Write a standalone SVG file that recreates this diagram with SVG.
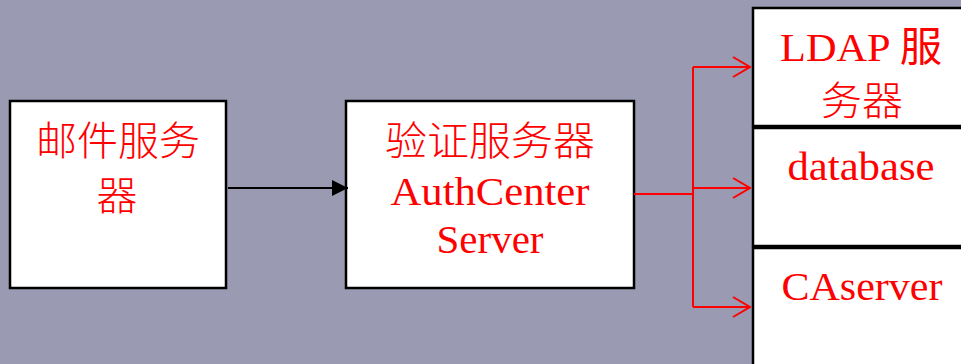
<svg xmlns="http://www.w3.org/2000/svg" width="961" height="364" viewBox="0 0 961 364">
<defs>
<style>
.box{fill:#ffffff;stroke:#000000;stroke-width:2.5}
.t{font-family:"Liberation Serif","Noto Sans CJK SC",serif;font-size:41px;fill:#ff0000;text-anchor:middle}
.c{font-family:"Noto Sans CJK SC",sans-serif;font-size:40px;font-weight:300;fill:#ff0000;text-anchor:middle}
.red{fill:none;stroke:#ff0000;stroke-width:2}
</style>
<marker id="tri" viewBox="0 0 16 16" refX="16" refY="8" markerWidth="16" markerHeight="16" markerUnits="userSpaceOnUse" orient="auto">
<path d="M0,0 L16,8 L0,16 Z" fill="#000"/>
</marker>
<marker id="open" viewBox="0 0 20 22" refX="18" refY="11" markerWidth="20" markerHeight="22" markerUnits="userSpaceOnUse" orient="auto">
<path d="M1,1 L18,11 L1,21" fill="none" stroke="#ff0000" stroke-width="2"/>
</marker>
</defs>
<rect width="961" height="364" fill="#9a9ab3"/>
<g id="mail">
<rect class="box" x="10" y="101" width="216" height="187"/>
<text class="c" x="118" y="155" font-size="38" textLength="164" lengthAdjust="spacingAndGlyphs">邮件服务</text>
<text class="c" x="117" y="210" font-size="38" textLength="41" lengthAdjust="spacingAndGlyphs">器</text>
</g>
<g id="auth">
<rect class="box" x="346" y="101" width="288" height="187"/>
<text class="c" x="490" y="155" textLength="210" lengthAdjust="spacingAndGlyphs">验证服务器</text>
<text class="t" x="490" y="205" textLength="199" lengthAdjust="spacingAndGlyphs">AuthCenter</text>
<text class="t" x="490" y="253" textLength="107" lengthAdjust="spacingAndGlyphs">Server</text>
</g>
<g id="ldap">
<rect class="box" x="753" y="8" width="230" height="118"/>
<text class="t" x="861" y="61" textLength="162" lengthAdjust="spacingAndGlyphs">LDAP 服</text>
<text class="c" x="862" y="115" textLength="82" lengthAdjust="spacingAndGlyphs">务器</text>
</g>
<g id="database">
<rect class="box" x="753" y="128" width="230" height="118"/>
<text class="t" x="861" y="180" textLength="147" lengthAdjust="spacingAndGlyphs">database</text>
</g>
<g id="caserver">
<rect class="box" x="753" y="248" width="230" height="130"/>
<text class="t" x="862" y="300" textLength="161" lengthAdjust="spacingAndGlyphs">CAserver</text>
</g>
<g id="connectors">
<line x1="228" y1="188" x2="348" y2="188" stroke="#000" stroke-width="2" marker-end="url(#tri)"/>
<polyline class="red" points="634,194 693,194"/>
<line class="red" x1="693" y1="67" x2="693" y2="307"/>
<line class="red" x1="693" y1="67" x2="750" y2="67" marker-end="url(#open)"/>
<line class="red" x1="693" y1="188" x2="750" y2="188" marker-end="url(#open)"/>
<line class="red" x1="693" y1="307" x2="750" y2="307" marker-end="url(#open)"/>
</g>
</svg>
